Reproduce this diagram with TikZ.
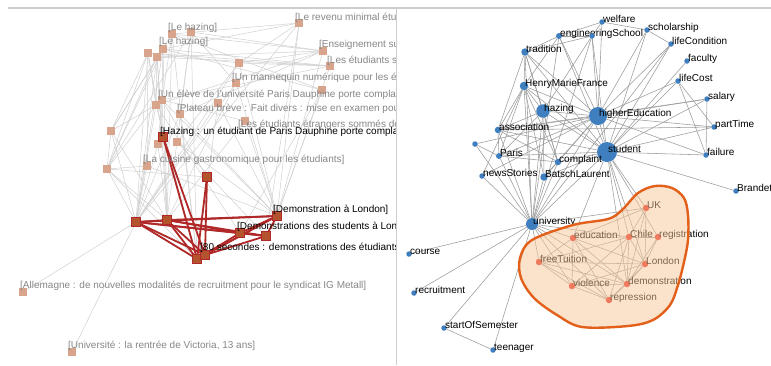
\documentclass[tikz,border=0pt]{standalone}
\usepackage{fontspec}
\setmainfont{Liberation Sans}
\pgfdeclarelayer{bg}
\pgfdeclarelayer{edges}
\pgfdeclarelayer{hull}
\pgfsetlayers{bg,edges,main,hull}

\definecolor{sqfill}{RGB}{217,164,140}
\definecolor{hotfill}{RGB}{180,84,46}
\definecolor{hotline}{RGB}{176,40,40}
\definecolor{labgray}{RGB}{135,135,135}
\definecolor{ledge}{RGB}{208,208,208}
\definecolor{redge}{RGB}{155,155,155}
\definecolor{dotblue}{RGB}{63,127,191}
\definecolor{dotred}{RGB}{232,45,35}
\definecolor{hullfill}{RGB}{247,199,153}
\definecolor{hullline}{RGB}{226,96,26}
\definecolor{framegray}{RGB}{205,205,205}

% square document node (faint / highlighted)
\newcommand\sqn[4][sq]{\node[#1] (#2) at (#3,#4) {};}
% round term node with its label
\newcommand\rn[5][5.5]{\node[bdot, minimum size=#1pt] (#2) at (#3,#4) {};
  \node[rlab] (#2-t) at (#3+1,#4+0.5) {#5};}
\newcommand\hn[4]{\node[hdot] (#1) at (#2,#3) {};
  \node[rlab] (#1-t) at (#2+1,#3+0.5) {#4};}

\begin{document}
\begin{tikzpicture}[x=1pt,y=-1pt,
  sq/.style={rectangle, minimum size=8pt, inner sep=0pt, fill=sqfill},
  sqhot/.style={rectangle, minimum size=8.5pt, inner sep=0pt, fill=hotfill, draw=hotline, line width=1.1pt},
  lab/.style={anchor=base west, inner sep=0pt, font=\fontsize{10}{12}\selectfont, text=labgray},
  labhot/.style={lab, text=black},
  gedge/.style={draw=ledge, line width=0.5pt},
  hedge/.style={draw=hotline, line width=1.8pt},
  bdot/.style={circle, fill=dotblue, inner sep=0pt},
  hdot/.style={circle, fill=dotred, inner sep=0pt, minimum size=6.5pt},
  rlab/.style={anchor=base west, inner sep=0pt, font=\fontsize{10}{12}\selectfont, text=black},
  redgeline/.style={draw=redge, line width=0.55pt},
  frameline/.style={draw=framegray, line width=1.6pt}]

\useasboundingbox (0,0) rectangle (771,365);
\begin{pgfonlayer}{bg}
  \fill[white] (0,0) rectangle (771,365);
\end{pgfonlayer}

% panel frame
\coordinate (ftl) at (8,8);
\coordinate (ftr) at (771,8);
\coordinate (fdt) at (396.5,8);
\coordinate (fdb) at (396.5,365);
\draw[frameline] (ftl) -- (ftr);
\draw[frameline] (fdt) -- (fdb);

% ---------------- left panel: documents ----------------
\sqn{revenu}{299}{23}
\sqn{hzA}{172}{34}
\sqn{hzA2}{191}{32}
\sqn{hzB}{163}{49}
\sqn{tc1}{148}{53}
\sqn{tc2}{157}{57}
\sqn{ens}{323}{51}
\sqn{etu}{330}{66}
\sqn{m0}{239}{63}
\sqn{manne}{236}{83}
\sqn{r0}{322}{90}
\sqn{eleve}{162}{100}
\sqn{el2}{156}{105}
\sqn{plat}{180}{114}
\sqn{p2}{218}{103}
\sqn{etr}{245}{121}
\sqn{w0}{111}{131}
\sqn{h2}{158}{144}
\sqn{h3}{177}{142}
\sqn{w1}{107}{169}
\sqn{cuis}{147}{166}
\sqn{alle}{23}{292}
\sqn{vict}{72}{352}

\sqn[sqhot]{hazdoc}{163}{137}
\sqn[sqhot]{d1}{207}{177}
\sqn[sqhot]{d2}{136}{222}
\sqn[sqhot]{d3}{167}{220}
\sqn[sqhot]{londoc}{277}{216}
\sqn[sqhot]{demos}{240}{233}
\sqn[sqhot]{d4}{266}{236}
\sqn[sqhot]{sec}{197}{259}
\sqn[sqhot]{sec2}{205}{255}

\begin{pgfonlayer}{edges}
  \foreach \a/\b in {tc1/w1, tc2/w1, hzB/w1, tc1/d2, tc2/d2, hzB/d3, hzA/d3, hzA2/d3,
      hzA/sec, hzA2/sec, tc1/el2, tc2/el2, hzB/eleve, hzA/eleve, hzA2/plat, hzA/ens,
      hzA2/ens, hzB/etu, tc2/ens, tc1/etu, hzA/r0, hzA2/manne, m0/ens, m0/etu, m0/tc1,
      m0/d2, manne/d2, manne/d3, revenu/londoc, revenu/d4, ens/londoc, etu/londoc,
      r0/londoc, r0/demos, manne/londoc, etr/londoc, etr/d3, p2/d2, p2/sec, plat/londoc,
      eleve/londoc, el2/demos, w0/d2, w0/hzB, w0/tc1, w0/d3, w1/d2, w1/d3, w1/d1,
      cuis/londoc, cuis/d2, h2/d2, h3/d4, h3/londoc, hazdoc/tc1, hazdoc/tc2, revenu/hzB,
      revenu/hzA, revenu/d2, ens/el2, etu/eleve, eleve/d1, plat/sec, el2/sec, alle/d2,
      vict/d2, w1/w0, w1/el2, cuis/tc1, h2/eleve, h3/m0, revenu/m0, r0/hzB, etr/eleve,
      londoc/m0, ens/plat, etu/tc2, p2/londoc, w1/sec, w0/el2, w0/hzA, w1/hzA2,
      tc2/d3, hzB/d2, el2/d2, eleve/d3, plat/d2, h2/d3, cuis/w1}
    \draw[gedge] (\a) -- (\b);
  \foreach \a/\b in {hazdoc/sec, hazdoc/sec2, d1/sec, d1/sec2, d2/d3, d2/sec, d2/sec2,
      d2/demos, d2/d4, d3/sec, d3/sec2, d3/demos, d3/d4, londoc/demos, londoc/d4,
      londoc/sec, londoc/sec2, londoc/d2, demos/sec, d4/sec2, demos/d4, d3/londoc}
    \draw[hedge] (\a) -- (\b);
\end{pgfonlayer}

\begin{scope}
  \clip (0,9) rectangle (395.5,365);
  \node[lab] (revenu-t) at (295,20) {[Le revenu minimal étudiant]};
  \node[lab] (hzA-t) at (168,30) {[Le hazing]};
  \node[lab] (hzB-t) at (159,44.5) {[Le hazing]};
  \node[lab] (ens-t) at (319,47) {[Enseignement supérieur]};
  \node[lab] (etu-t) at (327,63) {[Les étudiants sans logement]};
  \node[lab] (manne-t) at (232,80) {[Un mannequin numérique pour les étudiants]};
  \node[lab] (eleve-t) at (158,97) {[Un élève de l'université Paris Dauphine porte complainte]};
  \node[lab] (plat-t) at (177,111) {[Plateau brève : Fait divers : mise en examen pour hazing]};
  \node[lab] (etr-t) at (238,127) {[Les étudiants étrangers sommés de partir]};
  \node[lab] (cuis-t) at (143,162) {[La cuisine gastronomique pour les étudiants]};
  \node[lab] (alle-t) at (20,288) {[Allemagne : de nouvelles modalités de recruitment pour le syndicat IG Metall]};
  \node[lab] (vict-t) at (68,348) {[Université : la rentrée de Victoria, 13 ans]};
  \node[labhot] (hazdoc-t) at (160,134) {[Hazing : un étudiant de Paris Dauphine porte complainte]};
  \node[labhot] (londoc-t) at (273,212.5) {[Demonstration à London]};
  \node[labhot] (demos-t) at (237,229.5) {[Demonstrations des students à London]};
  \node[labhot] (sec-t) at (200,250.5) {[80 secondes : demonstrations des étudiants]};
\end{scope}

% ---------------- right panel: terms ----------------
\rn{welfare}{602}{22}{welfare}
\rn{scholarship}{647}{30}{scholarship}
\rn[6]{engSchool}{559}{36}{engineeringSchool}
\node[bdot, minimum size=5.5pt] (eng2) at (592,36) {};
\rn{lifeCondition}{671}{44}{lifeCondition}
\rn[7.5]{tradition}{525}{52}{tradition}
\rn{faculty}{687}{61}{faculty}
\rn[8.5]{hmf}{524}{86}{HenryMarieFrance}
\rn{lifeCost}{678}{81}{lifeCost}
\rn{salary}{707}{99}{salary}
\rn[13.5]{hazing}{543}{111}{hazing}
\rn[18]{higherEd}{598}{116}{higherEducation}
\rn{partTime}{714}{127}{partTime}
\rn[6.5]{association}{498}{130}{association}
\node[bdot, minimum size=5.5pt] (n0) at (475,144) {};
\rn[6]{paris}{499}{156}{Paris}
\rn[20]{student}{607}{152}{student}
\rn{failure}{706}{155}{failure}
\rn[6.5]{complaint}{558}{162}{complaint}
\rn{newsStories}{482}{176}{newsStories}
\rn[7.5]{batsch}{544}{177}{BatschLaurent}
\rn{brandet}{736}{191}{Brandet}
\rn[12]{university}{532}{224}{university}
\rn{course}{409}{254}{course}
\rn{recruitment}{414}{293}{recruitment}
\rn{startSem}{444}{328}{startOfSemester}
\rn{teenager}{493}{350}{teenager}
\hn{uk}{646}{208}{UK}
\hn{education}{573}{238}{education}
\hn{chile}{629}{237}{Chile}
\hn{registration}{658}{237}{registration}
\hn{freeTuition}{539}{262}{freeTuition}
\hn{london}{645}{264}{London}
\hn{violence}{572}{286}{violence}
\hn{demonstration}{627}{284}{demonstration}
\hn{repression}{609}{300}{repression}

\begin{pgfonlayer}{edges}
  \foreach \a/\b in {welfare/scholarship, welfare/higherEd, welfare/engSchool, welfare/eng2,
      scholarship/higherEd, scholarship/student, scholarship/lifeCondition,
      engSchool/tradition, engSchool/eng2, engSchool/hmf, engSchool/higherEd,
      engSchool/student, engSchool/university, eng2/tradition, eng2/higherEd, eng2/hazing,
      eng2/student, eng2/university, lifeCondition/student, lifeCondition/higherEd,
      lifeCondition/university, tradition/hmf, tradition/hazing, tradition/association,
      tradition/higherEd, tradition/student, tradition/university, tradition/complaint,
      faculty/student, hmf/hazing, hmf/association, hmf/paris, hmf/higherEd, hmf/student,
      hmf/university, hmf/complaint, hmf/batsch, hmf/newsStories, lifeCost/student,
      lifeCost/higherEd, lifeCost/failure, lifeCost/partTime, salary/higherEd,
      salary/student, salary/association, salary/failure, hazing/association,
      hazing/higherEd, hazing/student, hazing/university, hazing/complaint, hazing/batsch,
      hazing/paris, higherEd/student, higherEd/university, higherEd/association,
      higherEd/paris, higherEd/complaint, higherEd/batsch, higherEd/partTime,
      higherEd/failure, higherEd/newsStories, partTime/student, partTime/association,
      association/student, association/university, association/paris,
      association/complaint, n0/paris, n0/university, n0/higherEd, paris/student,
      paris/university, paris/complaint, student/failure, student/brandet,
      student/complaint, student/batsch, student/university, student/uk, student/chile,
      student/registration, student/london, student/demonstration, student/education,
      complaint/university, complaint/batsch, newsStories/university, batsch/university,
      university/course, university/recruitment, university/startSem,
      university/teenager, university/education, university/freeTuition, university/uk,
      university/chile, university/violence, university/demonstration,
      university/repression, startSem/teenager,
      education/chile, education/freeTuition, education/violence,
      education/demonstration, education/repression, education/london, chile/uk,
      chile/registration, chile/london, chile/demonstration, chile/violence,
      chile/freeTuition, chile/repression, uk/london, uk/demonstration, uk/education,
      freeTuition/violence, freeTuition/demonstration, freeTuition/repression,
      freeTuition/london, violence/repression, violence/demonstration, violence/london,
      demonstration/repression, demonstration/london, london/repression,
      registration/london, registration/demonstration}
    \draw[redgeline] (\a) -- (\b);
\end{pgfonlayer}

% cluster outline over the highlighted terms
\begin{pgfonlayer}{hull}
  \draw[draw=hullline, line width=2.4pt, fill=hullfill, fill opacity=0.5]
    plot[smooth cycle, tension=0.55] coordinates {
      (532,240) (573,225) (608,219) (622,210) (638,193) (655,186) (672,188)
      (684,198) (688,215) (688,240) (684,262) (678,285) (670,305) (653,320)
      (628,326) (582,327) (557,315) (534,298) (521,278) (520,258)};
\end{pgfonlayer}
\end{tikzpicture}
\end{document}
